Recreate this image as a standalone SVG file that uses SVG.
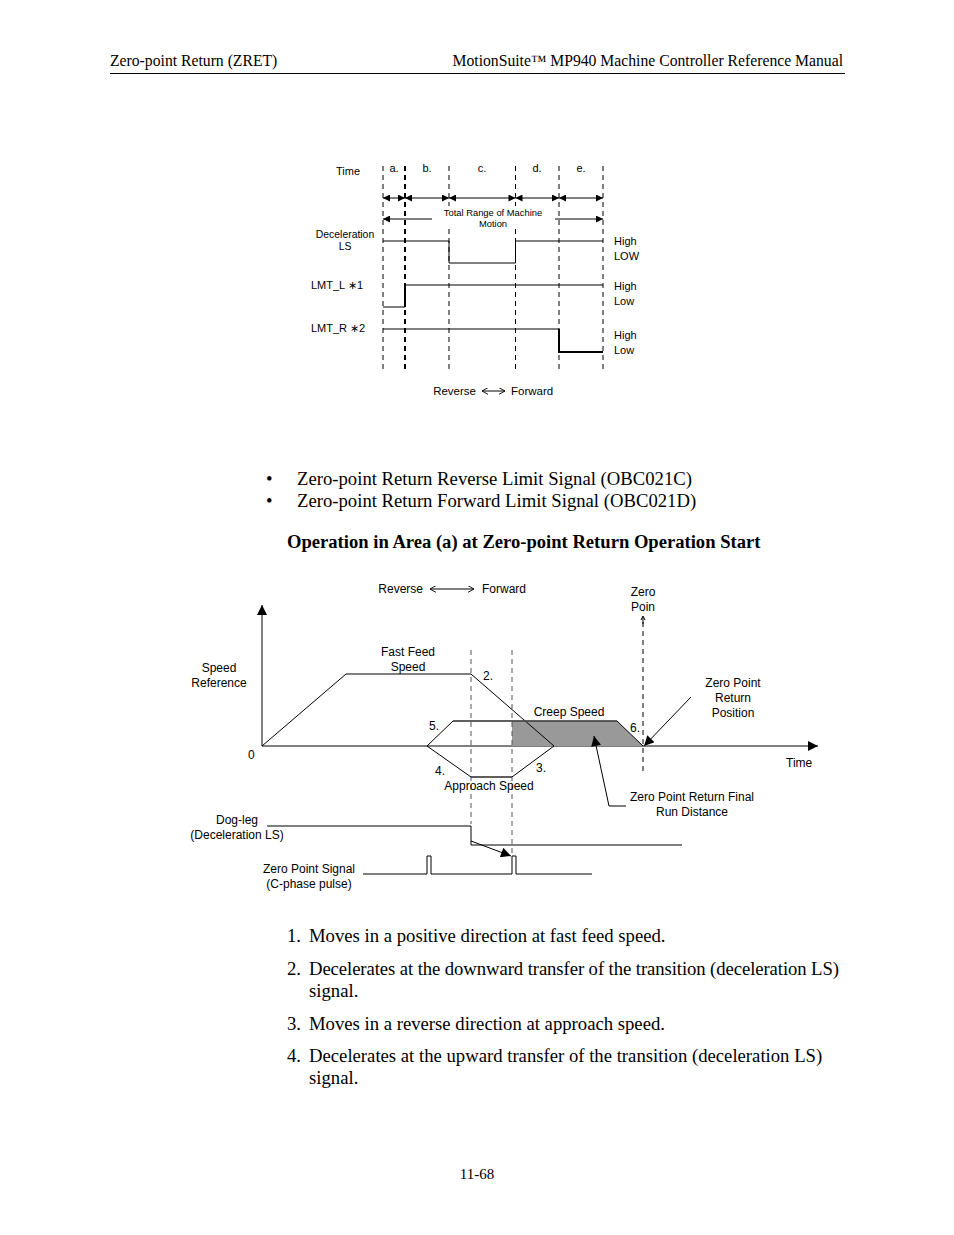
<svg xmlns="http://www.w3.org/2000/svg" width="954" height="1235" viewBox="0 0 954 1235">
<style>
.serif{font-family:"Liberation Serif","Times New Roman",serif;fill:#000}
.sans{font-family:"Liberation Sans",Arial,sans-serif;fill:#000}
.t11{font-size:11px}
.t12{font-size:12px}
.t8{font-size:9.4px}
.body{font-size:18.7px}
.hdr{font-size:15.7px}
.ln{stroke:#000;stroke-width:1;fill:none}
.dash{stroke:#000;stroke-width:1;stroke-dasharray:5,4;fill:none}
.dashb{stroke:#000;stroke-width:2;stroke-dasharray:5,4;fill:none}
.dashg{stroke:#555;stroke-width:1;stroke-dasharray:5,4;fill:none}
.mid{text-anchor:middle}
</style>
<defs>
<marker id="ah" viewBox="0 0 10 10" refX="10" refY="5" markerWidth="8" markerHeight="7" markerUnits="userSpaceOnUse" orient="auto-start-reverse">
<path d="M0,0 L10,5 L0,10 z" fill="#000"/>
</marker>
<marker id="ahL" viewBox="0 0 10 10" refX="10" refY="5" markerWidth="12" markerHeight="10" markerUnits="userSpaceOnUse" orient="auto-start-reverse">
<path d="M0,0 L10,5 L0,10 z" fill="#000"/>
</marker>
<marker id="open" viewBox="0 0 10 10" refX="9" refY="5" markerWidth="7" markerHeight="7" markerUnits="userSpaceOnUse" orient="auto-start-reverse">
<path d="M0,0 L9,5 L0,10" fill="none" stroke="#000" stroke-width="1.3"/>
</marker>
</defs>

<!-- Header -->
<g id="header">
<text class="serif hdr" x="110" y="66">Zero-point Return (ZRET)</text>
<text class="serif hdr" x="843" y="66" text-anchor="end">MotionSuite™ MP940 Machine Controller Reference Manual</text>
<line x1="110" y1="73.5" x2="845" y2="73.5" stroke="#000" stroke-width="1.2"/>
</g>

<!-- Top timing diagram -->
<g id="timing">
<g id="timing-grid">
<line class="dash" x1="383" y1="166" x2="383" y2="373"/>
<line class="dashb" x1="405" y1="166" x2="405" y2="373"/>
<line class="dash" x1="449" y1="166" x2="449" y2="373"/>
<line class="dash" x1="515.5" y1="166" x2="515.5" y2="373"/>
<line class="dash" x1="559" y1="166" x2="559" y2="373"/>
<line class="dash" x1="603" y1="166" x2="603" y2="373"/>
</g>
<g id="timing-labels">
<text class="sans t11" x="336" y="175">Time</text>
<text class="sans t11 mid" x="394" y="172">a.</text>
<text class="sans t11 mid" x="427" y="172">b.</text>
<text class="sans t11 mid" x="482" y="172">c.</text>
<text class="sans t11 mid" x="537" y="172">d.</text>
<text class="sans t11 mid" x="581" y="172">e.</text>
</g>
<g id="timing-arrows">
<line class="ln" x1="383" y1="198" x2="405" y2="198" marker-start="url(#ah)" marker-end="url(#ah)"/>
<line class="ln" x1="405" y1="198" x2="449" y2="198" marker-start="url(#ah)" marker-end="url(#ah)"/>
<line class="ln" x1="449" y1="198" x2="515.5" y2="198" marker-start="url(#ah)" marker-end="url(#ah)"/>
<line class="ln" x1="515.5" y1="198" x2="559" y2="198" marker-start="url(#ah)" marker-end="url(#ah)"/>
<line class="ln" x1="559" y1="198" x2="603" y2="198" marker-start="url(#ah)" marker-end="url(#ah)"/>
<line class="ln" x1="432" y1="219" x2="383" y2="219" marker-end="url(#ah)"/>
<line class="ln" x1="555" y1="219" x2="603" y2="219" marker-end="url(#ah)"/>
<rect x="441" y="206" width="104" height="23" fill="#fff"/>
<text class="sans t8 mid" x="493" y="216">Total Range of Machine</text>
<text class="sans t8 mid" x="493" y="227">Motion</text>
</g>
<g id="sig-decel">
<text class="sans mid" x="345" y="238" font-size="10.4">Deceleration</text>
<text class="sans mid" x="345" y="250" font-size="10.4">LS</text>
<polyline class="ln" points="383,241 449,241 449,263 515.5,263 515.5,241 603,241"/>
<text class="sans t11" x="614" y="245">High</text>
<text class="sans t11" x="614" y="260">LOW</text>
</g>
<g id="sig-lmtl">
<text class="sans t11" x="311" y="289">LMT_L ∗1</text>
<polyline class="ln" points="383,307 405,307"/>
<line x1="405" y1="307" x2="405" y2="285" stroke="#000" stroke-width="2"/>
<line class="ln" x1="405" y1="285" x2="603" y2="285"/>
<text class="sans t11" x="614" y="290">High</text>
<text class="sans t11" x="614" y="305">Low</text>
</g>
<g id="sig-lmtr">
<text class="sans t11" x="311" y="332">LMT_R ∗2</text>
<line class="ln" x1="383" y1="329" x2="559" y2="329"/>
<polyline points="559,329 559,352 603,352" fill="none" stroke="#000" stroke-width="2"/>
<text class="sans t11" x="614" y="339">High</text>
<text class="sans t11" x="614" y="354">Low</text>
</g>
<g id="timing-dir">
<text class="sans" x="476" y="395" font-size="11.5" text-anchor="end">Reverse</text>
<line class="ln" x1="482" y1="391" x2="505" y2="391" marker-start="url(#open)" marker-end="url(#open)"/>
<text class="sans" x="511" y="395" font-size="11.5">Forward</text>
</g>
</g>

<!-- Bullets and heading -->
<g id="bullets">
<text class="serif body" x="266" y="485">•</text>
<text class="serif body" x="297" y="485">Zero-point Return Reverse Limit Signal (OBC021C)</text>
<text class="serif body" x="266" y="507">•</text>
<text class="serif body" x="297" y="507">Zero-point Return Forward Limit Signal (OBC021D)</text>
<text class="serif" x="287" y="548" font-size="18.6" font-weight="bold">Operation in Area (a) at Zero-point Return Operation Start</text>
</g>

<!-- Speed diagram -->
<g id="speed">
<g id="axes">
<line class="ln" x1="262" y1="746" x2="262" y2="605" marker-end="url(#ahL)"/>
<line class="ln" x1="262" y1="746" x2="818" y2="746" marker-end="url(#ahL)"/>
<text class="sans t12 mid" x="219" y="672">Speed</text>
<text class="sans t12 mid" x="219" y="687">Reference</text>
<text class="sans t12" x="248" y="759">0</text>
<text class="sans t12" x="786" y="767">Time</text>
</g>
<g id="speed-dir">
<text class="sans t12" x="423" y="593" text-anchor="end">Reverse</text>
<line class="ln" x1="430" y1="589" x2="474" y2="589" marker-start="url(#open)" marker-end="url(#open)"/>
<text class="sans t12" x="482" y="593">Forward</text>
</g>
<g id="creep-fill">
<polygon points="512,721 617,721 643,746 512,746" fill="#999" stroke="none"/>
</g>
<g id="guides">
<line class="dashg" x1="471" y1="650" x2="471" y2="824"/>
<line class="dashg" x1="512" y1="650" x2="512" y2="857"/>
<line class="dash" x1="643" y1="622" x2="643" y2="775"/>
<line class="ln" x1="643" y1="617" x2="643" y2="624"/>
<path d="M641,620 L643,616 L645,620" fill="none" stroke="#000" stroke-width="1"/>
</g>
<g id="profiles">
<polyline class="ln" points="262,746 346,674 471,674 554,746"/>
<polyline class="ln" points="643,746 617,721 453,721 427,746 471,777 512,777 554,746"/>
<line x1="453" y1="721" x2="617" y2="721" stroke="#555" stroke-width="1.5"/>
<line x1="471" y1="777" x2="512" y2="777" stroke="#555" stroke-width="1.5"/>
</g>
<g id="speed-labels">
<text class="sans t12 mid" x="408" y="656">Fast Feed</text>
<text class="sans t12 mid" x="408" y="671">Speed</text>
<text class="sans t12" x="483" y="680">2.</text>
<text class="sans t12" x="429" y="730">5.</text>
<text class="sans t12" x="435" y="775">4.</text>
<text class="sans t12" x="536" y="772">3.</text>
<text class="sans t12" x="630" y="732">6.</text>
<text class="sans t12 mid" x="569" y="716">Creep Speed</text>
<text class="sans t12 mid" x="489" y="790">Approach Speed</text>
<text class="sans t12 mid" x="643" y="596">Zero</text>
<text class="sans t12 mid" x="643" y="611">Poin</text>
</g>
<g id="zero-return-position">
<text class="sans t12 mid" x="733" y="687">Zero Point</text>
<text class="sans t12 mid" x="733" y="702">Return</text>
<text class="sans t12 mid" x="733" y="717">Position</text>
<line class="ln" x1="691" y1="697" x2="644" y2="746" marker-end="url(#ahL)"/>
</g>
<g id="final-run">
<text class="sans t12 mid" x="692" y="801">Zero Point Return Final</text>
<text class="sans t12 mid" x="692" y="816">Run Distance</text>
<polyline class="ln" points="626,806 609,806 594,736" marker-end="url(#ahL)"/>
</g>
<g id="dogleg">
<text class="sans t12 mid" x="237" y="824">Dog-leg</text>
<text class="sans t12 mid" x="237" y="839">(Deceleration LS)</text>
<polyline class="ln" points="267,826 471,826 471,845 682,845"/>
<line class="ln" x1="471" y1="841" x2="511" y2="856" marker-end="url(#ahL)"/>
</g>
<g id="zero-signal">
<text class="sans t12 mid" x="309" y="873">Zero Point Signal</text>
<text class="sans t12 mid" x="309" y="888">(C-phase pulse)</text>
<polyline class="ln" points="363,874 427,874 427,856 431,856 431,874 512,874 512,856 516,856 516,874 592,874"/>
</g>
</g>

<!-- Numbered list -->
<g id="list">
<text class="serif body" x="287" y="942">1.</text>
<text class="serif body" x="309" y="942">Moves in a positive direction at fast feed speed.</text>
<text class="serif body" x="287" y="975">2.</text>
<text class="serif body" x="309" y="975" textLength="530" lengthAdjust="spacing">Decelerates at the downward transfer of the transition (deceleration LS)</text>
<text class="serif body" x="309" y="997">signal.</text>
<text class="serif body" x="287" y="1030">3.</text>
<text class="serif body" x="309" y="1030">Moves in a reverse direction at approach speed.</text>
<text class="serif body" x="287" y="1062">4.</text>
<text class="serif body" x="309" y="1062">Decelerates at the upward transfer of the transition (deceleration LS)</text>
<text class="serif body" x="309" y="1084">signal.</text>
</g>

<g id="footer">
<text class="serif mid" x="477" y="1179" font-size="15">11-68</text>
</g>
</svg>
